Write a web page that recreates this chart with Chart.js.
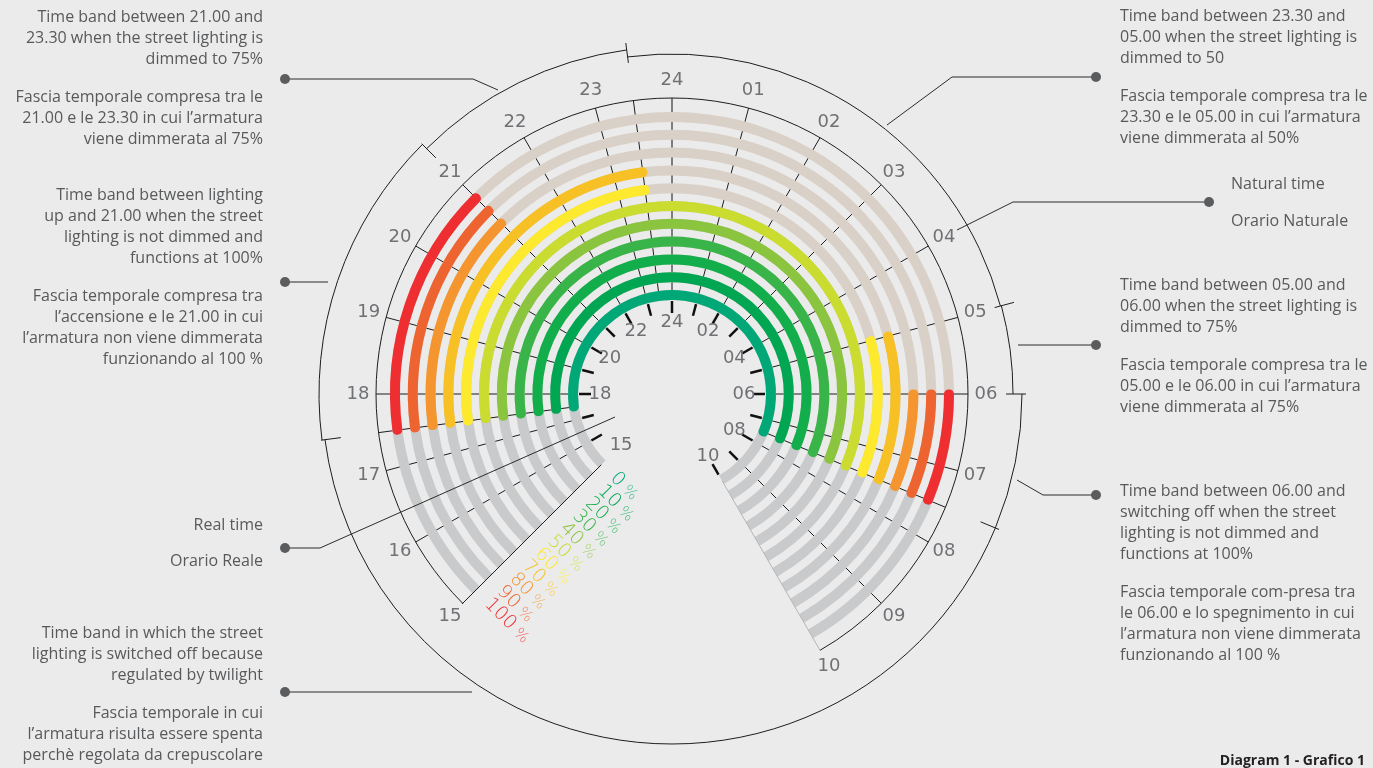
<!DOCTYPE html>
<html>
<head>
<meta charset="utf-8">
<title>Diagram 1 - Grafico 1</title>
<script src="https://cdn.jsdelivr.net/npm/chart.js@4.4.1/dist/chart.umd.min.js"></script>
<style>
  html, body { margin: 0; padding: 0; background: #ebebeb; }
  #stage { position: relative; width: 1373px; height: 768px; overflow: hidden; font-family: "Open Sans", sans-serif; color: #58595b; }
  canvas { position: absolute; left: 0; top: 0; }
  .note { position: absolute; font-size: 16px; line-height: 21px; white-space: nowrap; }
  .left { right: 1110px; text-align: right; }
  .right { left: 1120px; text-align: left; }
  .title { position: absolute; right: 8px; top: 750px; font-size: 14px; line-height: 20px; font-weight: bold; color: #231f20; }
</style>
</head>
<body>
<div id="stage">
  <canvas id="rings" width="1373" height="768"></canvas>
  <canvas id="lit" width="1373" height="768"></canvas>

  <div class="note left" style="top:6px">Time band between 21.00 and<br>23.30 when the street lighting is<br>dimmed to 75%</div>
  <div class="note left" style="top:86px">Fascia temporale compresa tra le<br>21.00 e le 23.30 in cui l’armatura<br>viene dimmerata al 75%</div>
  <div class="note left" style="top:184px">Time band between lighting<br>up and 21.00 when the street<br>lighting is not dimmed and<br>functions at 100%</div>
  <div class="note left" style="top:285px">Fascia temporale compresa tra<br>l’accensione e le 21.00 in cui<br>l’armatura non viene dimmerata<br>funzionando al 100 %</div>
  <div class="note left" style="top:514px">Real time</div>
  <div class="note left" style="top:550px">Orario Reale</div>
  <div class="note left" style="top:622px">Time band in which the street<br>lighting is switched off because<br>regulated by twilight</div>
  <div class="note left" style="top:702px">Fascia temporale in cui<br>l’armatura risulta essere spenta<br>perchè regolata da crepuscolare</div>

  <div class="note right" style="top:5px">Time band between 23.30 and<br>05.00 when the street lighting is<br>dimmed to 50</div>
  <div class="note right" style="top:85px">Fascia temporale compresa tra le<br>23.30 e le 05.00 in cui l’armatura<br>viene dimmerata al 50%</div>
  <div class="note" style="left:1231px; top:173px">Natural time</div>
  <div class="note" style="left:1231px; top:210px">Orario Naturale</div>
  <div class="note right" style="top:274px">Time band between 05.00 and<br>06.00 when the street lighting is<br>dimmed to 75%</div>
  <div class="note right" style="top:354px">Fascia temporale compresa tra le<br>05.00 e le 06.00 in cui l’armatura<br>viene dimmerata al 75%</div>
  <div class="note right" style="top:480px">Time band between 06.00 and<br>switching off when the street<br>lighting is not dimmed and<br>functions at 100%</div>
  <div class="note right" style="top:581px">Fascia temporale com-presa tra<br>le 06.00 e lo spegnimento in cui<br>l’armatura non viene dimmerata<br>funzionando al 100 %</div>
  <div class="title">Diagram 1 - Grafico 1</div>
</div>

<script>
// dimming level of each ring, outer ring first
const levels = [100, 90, 80, 70, 60, 50, 40, 30, 20, 10, 0];
const ringColors = ["#ee2e31", "#ee6430", "#f4952f", "#f7c024", "#fde92d", "#c9dc2f", "#8bc43f", "#38b449", "#12ae4b", "#00a651", "#00a878"];

// night schedule in natural clock hours and the light output of each band
const bandStart = [17.5, 21, 23.5, 5, 6];
const bandEnd = [21, 23.5, 5, 6, 7.5];
const bandOutput = [100, 75, 50, 75, 100];

// visible part of the clock face
const clockStart = 15;
const clockEnd = 10;

// natural time (outer) and real time (inner) scales
const hourLabels = ["15", "16", "17", "18", "19", "20", "21", "22", "23", "24", "01", "02", "03", "04", "05", "06", "07", "08", "09", "10"];
const hourValues = [15, 16, 17, 18, 19, 20, 21, 22, 23, 24, 1, 2, 3, 4, 5, 6, 7, 8, 9, 10];
const realLabels = ["15", "18", "20", "22", "24", "02", "04", "06", "08", "10"];
const realValues = [15, 18, 20, 22, 24, 2, 4, 6, 8, 10];
const realTicks = [16, 17, 18, 19, 20, 21, 22, 23, 24, 1, 2, 3, 4, 5, 6, 7, 8, 9, 10];

const OFF_GREY = "#c9cacc";
const DIM_BEIGE = "#d9d0c7";
const NONE = "rgba(0,0,0,0)";
const INK = "#1d1d1d";
const LABEL_GREY = "#6f7174";

const span = (a, b) => (((b - a) % 24) + 24) % 24;
const ang = (h) => ((h * 15 - 90) * Math.PI) / 180;

const nightStart = bandStart[0];
const nightEnd = bandEnd[bandEnd.length - 1];
const before = span(clockStart, nightStart);
const night = span(nightStart, nightEnd);
const after = span(nightEnd, clockEnd);
const gap = span(clockEnd, clockStart);

// lit / not lit runs of one ring (consecutive bands merged)
function litRuns(level) {
  const vals = [];
  const on = [];
  bandStart.forEach((s, i) => {
    const d = span(s, bandEnd[i]);
    const lit = bandOutput[i] >= level;
    if (on.length && on[on.length - 1] === lit) vals[vals.length - 1] += d;
    else {
      vals.push(d);
      on.push(lit);
    }
  });
  return { vals, on };
}

const spacer = (w) => ({ data: [24], backgroundColor: [NONE], borderWidth: 0, weight: w });

// background rings: grey when switched off, beige where the ring is not reached
const bgDatasets = [];
levels.forEach((lv, i) => {
  bgDatasets.push({
    data: [before, night, after, gap],
    backgroundColor: [OFF_GREY, DIM_BEIGE, OFF_GREY, NONE],
    borderWidth: 0,
    weight: 10,
  });
  if (i < levels.length - 1) bgDatasets.push(spacer(7.8));
});

// coloured rings: thin arcs stroked wide with round joins -> round caps
const litDatasets = [spacer(4.5)];
levels.forEach((lv, i) => {
  const runs = litRuns(lv);
  const on = [false].concat(runs.on, [false, false]);
  litDatasets.push({
    data: [before].concat(runs.vals, [after, gap]),
    backgroundColor: on.map((o) => (o ? ringColors[i] : NONE)),
    borderColor: on.map((o) => (o ? ringColors[i] : NONE)),
    borderWidth: on.map((o) => (o ? 9 : 0)),
    borderJoinStyle: "round",
    weight: 1,
  });
  litDatasets.push(spacer(i < levels.length - 1 ? 16.8 : 4.5));
});

function centerOf(chart) {
  const a = chart.chartArea;
  return { cx: (a.left + a.right) / 2, cy: (a.top + a.bottom) / 2 };
}

function tint(hex, t) {
  const n = parseInt(hex.slice(1), 16);
  const m = (c) => Math.round(c + (255 - c) * t);
  return "rgb(" + m((n >> 16) & 255) + "," + m((n >> 8) & 255) + "," + m(n & 255) + ")";
}

function radial(ctx, cx, cy, h, r0, r1) {
  ctx.beginPath();
  ctx.moveTo(cx + r0 * Math.cos(ang(h)), cy + r0 * Math.sin(ang(h)));
  ctx.lineTo(cx + r1 * Math.cos(ang(h)), cy + r1 * Math.sin(ang(h)));
  ctx.stroke();
}

// outer brackets for the time bands
const bracketFrom = [17.5, 21, 23.5, 5, 6, 7.5];
const bracketTo = [21, 23.5, 5, 6, 7.5, 17.5];
const bracketRadius = [353, 347, 340, 341, 350, 350];

const clockDecor = {
  id: "clockDecor",
  beforeDatasetsDraw(chart) {
    const ctx = chart.ctx;
    const { cx, cy } = centerOf(chart);
    const inner = chart.getDatasetMeta(bgDatasets.length - 1).controller.innerRadius;
    const outer = chart.getDatasetMeta(0).controller.outerRadius + 14;
    const grid = [...new Set(hourValues.concat(bandStart, bandEnd))].filter((h) => h !== clockStart && h !== clockEnd);
    ctx.save();
    grid.forEach((h) => {
      ctx.strokeStyle = h === 24 ? "#7d7e80" : INK;
      ctx.lineWidth = h === 24 ? 2 : 1;
      radial(ctx, cx, cy, h, inner, outer);
    });
    ctx.restore();
  },
  afterDatasetsDraw(chart) {
    const ctx = chart.ctx;
    const { cx, cy } = centerOf(chart);
    const inner = chart.getDatasetMeta(bgDatasets.length - 1).controller.innerRadius;
    const outer = chart.getDatasetMeta(0).controller.outerRadius + 14;
    ctx.save();

    // clock rim and the two edges of the gap
    ctx.strokeStyle = INK;
    ctx.lineWidth = 1;
    ctx.beginPath();
    ctx.arc(cx, cy, outer, ang(clockStart), ang(clockEnd));
    ctx.stroke();
    radial(ctx, cx, cy, clockStart, inner + 6, outer + 1);
    ctx.strokeStyle = "#b4b5b7";
    radial(ctx, cx, cy, clockEnd, inner + 6, outer + 1);

    // real time ticks
    ctx.strokeStyle = "#111";
    ctx.lineWidth = 2.5;
    realTicks.forEach((h) => radial(ctx, cx, cy, h, inner - 13, inner - 1));

    // labels
    ctx.fillStyle = LABEL_GREY;
    ctx.font = '18px "DejaVu Sans"';
    ctx.textAlign = "center";
    ctx.textBaseline = "middle";
    hourValues.forEach((h, i) => {
      ctx.fillText(hourLabels[i], cx + (outer + 18) * Math.cos(ang(h)), cy + (outer + 18) * Math.sin(ang(h)));
    });
    realValues.forEach((h, i) => {
      ctx.fillText(realLabels[i], cx + 72 * Math.cos(ang(h)), cy + 72 * Math.sin(ang(h)));
    });

    // brackets
    ctx.strokeStyle = INK;
    ctx.lineWidth = 1;
    bracketFrom.forEach((h, i) => {
      ctx.beginPath();
      ctx.arc(cx, cy, bracketRadius[i], ang(h), ang(bracketTo[i]));
      ctx.stroke();
      radial(ctx, cx, cy, h, 334, 354);
    });

    // percentage of each ring, written across the gap, away from its edge
    const ux = Math.cos(ang(clockStart));
    const uy = Math.sin(ang(clockStart));
    levels.forEach((lv, i) => {
      const c = chart.getDatasetMeta(i * 2).controller;
      const r = (c.outerRadius + c.innerRadius) / 2;
      const px = cx + r * ux + 16 * uy;
      const py = cy + r * uy - 16 * ux;
      ctx.save();
      ctx.translate(px, py);
      ctx.rotate(ang(clockStart) - Math.PI / 2);
      ctx.textAlign = "left";
      ctx.font = '300 19px "DejaVu Sans"';
      ctx.fillStyle = ringColors[i];
      const num = String(lv);
      ctx.fillText(num, 0, 0);
      const w = ctx.measureText(num).width;
      ctx.font = '300 15px "DejaVu Sans"';
      ctx.fillStyle = tint(ringColors[i], 0.25);
      ctx.fillText("%", w + 5, 1);
      ctx.restore();
    });
    ctx.restore();
  },
};

// leader lines from the notes to the clock
const leaders = [
  [[285, 79], [473, 79], [498, 90]],
  [[285, 282], [328, 282]],
  [[285, 548], [320, 548], [615, 417]],
  [[285, 692], [472, 692]],
  [[1096, 77], [952, 77], [887, 125]],
  [[1209, 202], [1013, 202], [957, 230]],
  [[1096, 345], [1018, 345]],
  [[1096, 495], [1043, 495], [1017, 480]],
];

const leaderLines = {
  id: "leaderLines",
  afterDatasetsDraw(chart) {
    const ctx = chart.ctx;
    ctx.save();
    leaders.forEach((pts) => {
      ctx.strokeStyle = "#2b2b2b";
      ctx.lineWidth = 1;
      ctx.beginPath();
      pts.forEach((p, k) => (k ? ctx.lineTo(p[0], p[1]) : ctx.moveTo(p[0], p[1])));
      ctx.stroke();
      ctx.fillStyle = "#5b5c5e";
      ctx.beginPath();
      ctx.arc(pts[0][0], pts[0][1], 5, 0, Math.PI * 2);
      ctx.fill();
    });
    ctx.restore();
  },
};

function ringOptions() {
  return {
    responsive: false,
    animation: false,
    events: [],
    rotation: clockStart * 15,
    circumference: 360,
    radius: 282,
    cutout: (94 / 282) * 100 + "%",
    layout: { padding: { left: 390, right: 419, top: 112, bottom: 92 } },
    plugins: { legend: { display: false }, tooltip: { enabled: false } },
  };
}

new Chart(document.getElementById("rings"), {
  type: "doughnut",
  data: { datasets: bgDatasets },
  options: ringOptions(),
  plugins: [clockDecor],
});

new Chart(document.getElementById("lit"), {
  type: "doughnut",
  data: { datasets: litDatasets },
  options: ringOptions(),
  plugins: [leaderLines],
});
</script>
</body>
</html>
